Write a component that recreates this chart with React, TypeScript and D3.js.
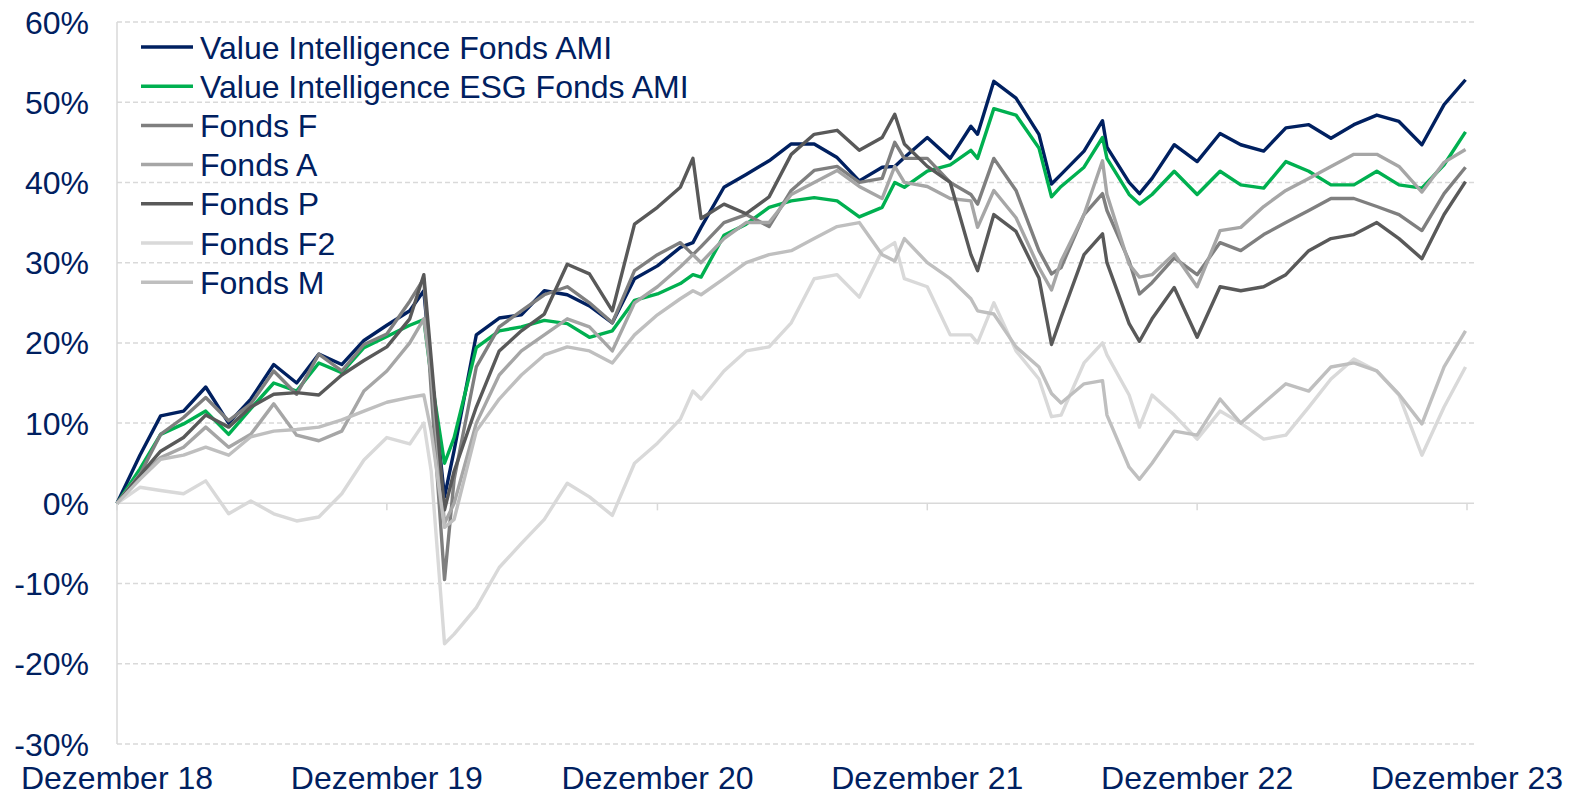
import React, { useEffect, useRef } from 'react';
import * as d3 from 'd3';

// month-end points, plus a few dated turning points
const dates = [
  '2018-12-31',
  '2019-01-31', '2019-02-28', '2019-03-31', '2019-04-30', '2019-05-31', '2019-06-30',
  '2019-07-31', '2019-08-31', '2019-09-30', '2019-10-31', '2019-11-30', '2019-12-31',
  '2020-01-31', '2020-02-19', '2020-02-29', '2020-03-18', '2020-03-31', '2020-04-30', '2020-05-31',
  '2020-06-30', '2020-07-31', '2020-08-31', '2020-09-30', '2020-10-31', '2020-11-30', '2020-12-31',
  '2021-01-31', '2021-02-17', '2021-02-28', '2021-03-31', '2021-04-30', '2021-05-31', '2021-06-30',
  '2021-07-31', '2021-08-31', '2021-09-30', '2021-10-31', '2021-11-17', '2021-11-30', '2021-12-31',
  '2022-01-31', '2022-02-28', '2022-03-09', '2022-03-31', '2022-04-30', '2022-05-31', '2022-06-17',
  '2022-06-30', '2022-07-31', '2022-08-25', '2022-08-31', '2022-09-30', '2022-10-14', '2022-10-31',
  '2022-11-30', '2022-12-31',
  '2023-01-31', '2023-02-28', '2023-03-31', '2023-04-30', '2023-05-31', '2023-06-30',
  '2023-07-31', '2023-08-31', '2023-09-30', '2023-10-31', '2023-11-30', '2023-12-29'
];

const valueAmi = [
  0,
  6, 10.9, 11.5, 14.5, 10, 13, 17.3, 15, 18.6, 17.3, 20.3, 22.2,
  24, 26.5, 16.5, 0.8, 6.6, 21, 23.1, 23.5, 26.5, 26, 24.6, 22.5, 28, 29.6,
  31.9, 32.5, 34.4, 39.4, 41, 42.7, 44.8, 44.8, 43.1, 40.2, 41.9, 42, 43.1, 45.6,
  43, 47, 46, 52.6, 50.5, 46, 39.8, 41, 43.9, 47.7, 44.4, 40, 38.6, 40.5, 44.7, 42.6,
  46.1, 44.7, 43.9, 46.8, 47.2, 45.5, 47.2, 48.4, 47.6, 44.7, 49.7, 52.8
];

const esgAmi = [
  0,
  4.3, 8.6, 9.9, 11.5, 8.6, 11.8, 15, 14, 17.5, 16.3, 19.4, 20.8,
  22.2, 22.9, 15.7, 5, 8.2, 19.4, 21.5, 22, 22.8, 22.4, 20.7, 21.5, 25.3, 26.1,
  27.4, 28.5, 28.2, 33.4, 34.8, 36.9, 37.7, 38.1, 37.7, 35.7, 36.9, 40, 39.4, 41.4,
  42.2, 44, 43, 49.2, 48.4, 44.3, 38.2, 39.5, 41.9, 45.6, 43, 38.5, 37.3, 38.5, 41.4, 38.5,
  41.4, 39.7, 39.3, 42.6, 41.4, 39.7, 39.7, 41.4, 39.7, 39.3, 42.2, 46.3
];

const fondsF = [
  0,
  3.6, 8.6, 10.7, 13.2, 10.3, 12.4, 16.5, 13.6, 18.6, 16.5, 19.8, 21.1,
  25.2, 28, 14, -9.5, 3, 17, 22, 24, 26, 27, 25, 22.5, 29, 31,
  32.5, 31, 32, 35, 36, 34.5, 39, 41.5, 42, 40, 40.5, 45, 43, 43,
  40, 38.5, 37.3, 43, 39, 31.5, 28.6, 29.4, 36, 38.6, 36.5, 30.2, 26.1, 27.5, 30.6, 28.5,
  32.5, 31.5, 33.5, 35, 36.5, 38, 38, 37, 36, 34, 38.6, 41.9
];

const fondsA = [
  0,
  3.6, 5.7, 7, 9.5, 7, 8.6, 12.4, 8.5, 7.8, 9, 14, 16.5,
  20, 23, 16, -2.5, 0, 10, 16, 19, 21, 23, 22, 19, 25, 27,
  29.5, 31, 30, 33, 35, 35, 38.5, 40, 41.5, 39.5, 38, 42, 40, 39.5,
  38, 37.7, 34.4, 39, 35.6, 29.4, 26.6, 30.2, 36, 42.7, 38.5, 29.8, 28.2, 28.5, 31.1, 27,
  34, 34.4, 37, 39, 40.5, 42, 43.5, 43.5, 42, 38.8, 42.5, 44.1
];

const fondsP = [
  0,
  3.5, 6.5, 8.2, 11, 9.5, 12, 13.6, 13.8, 13.5, 16, 17.8, 19.5,
  23, 28.5, 18, -0.8, 4, 12, 19, 21.5, 23.6, 29.8, 28.6, 24, 34.8, 36.9,
  39.4, 43, 35.5, 37.3, 36.1, 38.2, 43.5, 46, 46.5, 44, 45.6, 48.5, 44.8, 42,
  40, 31, 29, 36, 33.9, 28.1, 19.8, 23.2, 31, 33.6, 30, 22.4, 20.2, 23, 26.9, 20.7,
  27, 26.5, 27, 28.5, 31.5, 33, 33.5, 35, 33, 30.5, 36, 40.1
];

const fondsF2 = [
  0,
  2, 1.6, 1.2, 2.8, -1.3, 0.3, -1.3, -2.2, -1.7, 1.2, 5.4, 8.2,
  7.4, 10, 4, -17.5, -16.3, -13, -8, -5, -2, 2.5, 0.8, -1.5, 5, 7.5,
  10.5, 14, 13, 16.5, 19, 19.5, 22.5, 28, 28.5, 25.7, 31.5, 32.5, 28, 27,
  21, 21, 20, 25, 19, 15.5, 10.8, 11, 17.5, 20, 18.5, 13.5, 9.5, 13.5, 11, 8,
  11.5, 10, 8, 8.5, 12, 15.5, 18, 16.5, 13.5, 6, 12, 17
];

const fondsM = [
  0,
  3, 5.5, 6, 7, 6, 8.3, 9, 9.2, 9.5, 10.4, 11.5, 12.6,
  13.2, 13.5, 9, -3, -2, 9, 13, 16, 18.5, 19.5, 19, 17.5, 21, 23.5,
  25.5, 26.5, 26, 28, 30, 31, 31.5, 33, 34.5, 35, 31, 30.2, 33, 30,
  28, 25.5, 24, 23.6, 19.5, 17, 13.7, 12.5, 14.9, 15.3, 11, 4.5, 3, 5, 9, 8.5,
  13, 10, 12.5, 14.9, 14, 17, 17.5, 16.5, 13.6, 9.9, 17, 21.5
];

const seriesNames = [
  'Value Intelligence Fonds AMI',
  'Value Intelligence ESG Fonds AMI',
  'Fonds F',
  'Fonds A',
  'Fonds P',
  'Fonds F2',
  'Fonds M'
];
const seriesValues = [valueAmi, esgAmi, fondsF, fondsA, fondsP, fondsF2, fondsM];
const seriesColors = ['#002060', '#00b050', '#7f7f7f', '#a6a6a6', '#595959', '#d9d9d9', '#bfbfbf'];

const yTicks = [60, 50, 40, 30, 20, 10, 0, -10, -20, -30];
const xTickDates = ['2018-12-31', '2019-12-31', '2020-12-31', '2021-12-31', '2022-12-31', '2023-12-31'];
const xTickLabels = ['Dezember 18', 'Dezember 19', 'Dezember 20', 'Dezember 21', 'Dezember 22', 'Dezember 23'];

const textColor = '#002060';
const gridColor = '#d9d9d9';
const font = '"Liberation Sans", Arial, sans-serif';

function App() {
  const chartRef = useRef<SVGSVGElement>(null);

  const width = 1577;
  const height = 796;
  const marginTop = 22;
  const marginLeft = 117;
  const plotRight = 1467;
  const gridRight = 1474;
  const plotBottom = 744;
  const fontSize = 32;

  useEffect(() => {
    const parse = d3.timeParse('%Y-%m-%d');

    const x = d3.scaleTime()
      .domain([parse('2018-12-31')!, parse('2023-12-31')!])
      .range([marginLeft, plotRight]);

    const y = d3.scaleLinear()
      .domain([-30, 60])
      .range([plotBottom, marginTop]);

    const svg = d3.select(chartRef.current)
      .attr('width', width)
      .attr('height', height)
      .attr('viewBox', [0, 0, width, height].join(' '));

    svg.selectAll('*').remove();

    // dashed gridlines
    svg.append('g')
      .selectAll('line')
      .data(yTicks.filter(d => d !== 0))
      .join('line')
      .attr('x1', marginLeft)
      .attr('x2', gridRight)
      .attr('y1', d => y(d))
      .attr('y2', d => y(d))
      .attr('stroke', gridColor)
      .attr('stroke-width', 1.5)
      .attr('stroke-dasharray', '5,3');

    // left axis line
    svg.append('line')
      .attr('x1', marginLeft).attr('x2', marginLeft)
      .attr('y1', marginTop).attr('y2', plotBottom)
      .attr('stroke', gridColor)
      .attr('stroke-width', 1.5);

    // zero line with year ticks
    svg.append('line')
      .attr('x1', marginLeft).attr('x2', gridRight)
      .attr('y1', y(0)).attr('y2', y(0))
      .attr('stroke', gridColor)
      .attr('stroke-width', 1.5);

    svg.append('g')
      .selectAll('line')
      .data(xTickDates)
      .join('line')
      .attr('x1', d => x(parse(d)!))
      .attr('x2', d => x(parse(d)!))
      .attr('y1', y(0))
      .attr('y2', y(0) + 7)
      .attr('stroke', gridColor)
      .attr('stroke-width', 1.5);

    // y labels
    svg.append('g')
      .selectAll('text')
      .data(yTicks)
      .join('text')
      .attr('x', 89)
      .attr('y', d => y(d))
      .attr('dy', '0.36em')
      .attr('text-anchor', 'end')
      .attr('fill', textColor)
      .attr('font-family', font)
      .attr('font-size', fontSize)
      .text(d => `${d}%`);

    // x labels
    svg.append('g')
      .selectAll('text')
      .data(xTickDates)
      .join('text')
      .attr('x', d => x(parse(d)!))
      .attr('y', 789)
      .attr('text-anchor', 'middle')
      .attr('fill', textColor)
      .attr('font-family', font)
      .attr('font-size', fontSize)
      .text((d, i) => xTickLabels[i]);

    const line = d3.line<number>()
      .x((d, i) => x(parse(dates[i])!))
      .y(d => y(d));

    svg.append('g')
      .selectAll('path')
      .data(seriesValues)
      .join('path')
      .attr('fill', 'none')
      .attr('stroke', (d, i) => seriesColors[i])
      .attr('stroke-width', 3.4)
      .attr('stroke-linejoin', 'round')
      .attr('d', d => line(d));

    // legend
    const legend = svg.append('g');
    const rowY = (i: number) => 47 + i * 39.2;

    legend.selectAll('line')
      .data(seriesNames)
      .join('line')
      .attr('x1', 141)
      .attr('x2', 193)
      .attr('y1', (d, i) => rowY(i))
      .attr('y2', (d, i) => rowY(i))
      .attr('stroke', (d, i) => seriesColors[i])
      .attr('stroke-width', 3.5);

    legend.selectAll('text')
      .data(seriesNames)
      .join('text')
      .attr('x', 200)
      .attr('y', (d, i) => rowY(i))
      .attr('dy', '0.36em')
      .attr('fill', textColor)
      .attr('font-family', font)
      .attr('font-size', fontSize)
      .text(d => d);
  }, []);

  return (
    <div>
      <svg ref={chartRef} style={{ position: 'absolute', left: 0, top: 0, display: 'block' }}></svg>
    </div>
  );
}

export default App;
